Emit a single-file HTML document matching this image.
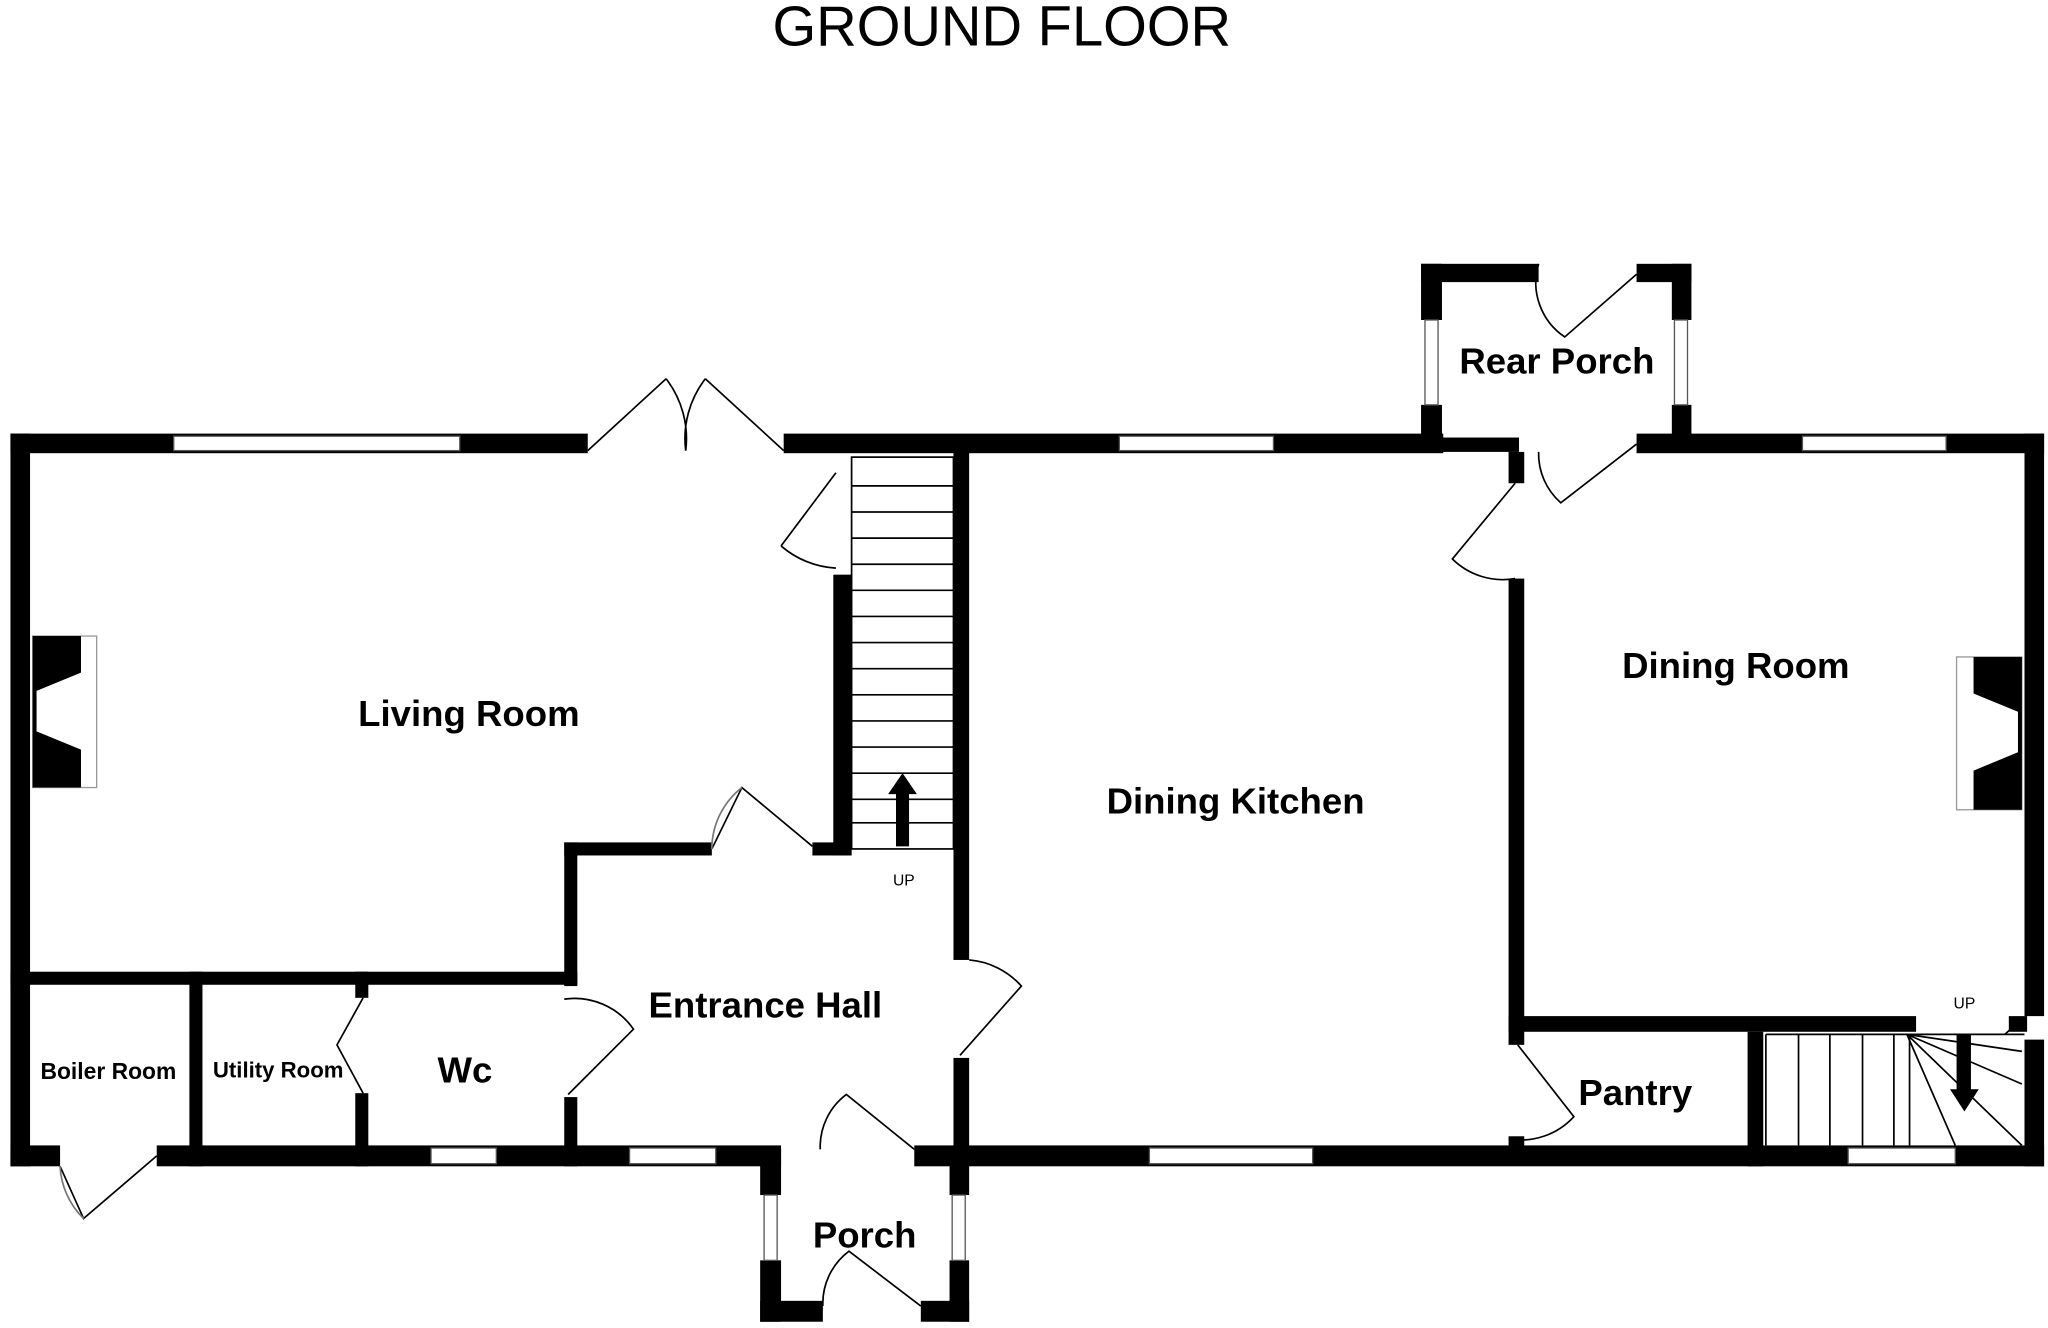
<!DOCTYPE html>
<html><head><meta charset="utf-8"><style>
html,body{margin:0;padding:0;background:#fff;width:2048px;height:1328px;overflow:hidden}
svg{display:block}
text{font-family:"Liberation Sans",sans-serif}
</style></head><body>
<svg width="2048" height="1328" viewBox="0 0 1568 1016.8" preserveAspectRatio="none" xmlns="http://www.w3.org/2000/svg">
<rect width="1568" height="1017" fill="#fff"/>
<text x="767" y="35" font-size="43" text-anchor="middle" fill="#000">GROUND FLOOR</text>
<g fill="#000">
<rect x="8" y="332" width="442" height="15"/>
<rect x="600" y="332" width="505" height="15"/>
<rect x="1088" y="335" width="75" height="11"/>
<rect x="1253" y="332" width="312" height="15"/>
<rect x="8" y="332" width="15" height="561"/>
<rect x="1550" y="332" width="15" height="446"/>
<rect x="1550" y="796" width="15" height="97"/>
<rect x="8" y="877" width="38" height="16"/>
<rect x="120" y="877" width="478" height="16"/>
<rect x="700" y="877" width="865" height="16"/>
<rect x="638" y="440" width="14" height="215"/>
<rect x="730" y="346" width="12" height="389"/>
<rect x="730" y="810" width="12" height="83"/>
<rect x="8" y="744" width="434" height="10"/>
<rect x="432" y="645" width="10" height="110"/>
<rect x="432" y="840" width="10" height="53"/>
<rect x="432" y="645" width="113" height="10"/>
<rect x="622" y="645" width="30" height="10"/>
<rect x="145" y="744" width="10" height="149"/>
<rect x="272" y="744" width="10" height="20"/>
<rect x="272" y="837" width="10" height="56"/>
<rect x="1155" y="346" width="12" height="24"/>
<rect x="1155" y="443" width="12" height="357"/>
<rect x="1155" y="778" width="312" height="12"/>
<rect x="1338" y="790" width="12" height="103"/>
<rect x="1155" y="870" width="12" height="10"/>
<rect x="1538" y="778" width="14" height="12"/>
<rect x="1088" y="202" width="90" height="14"/>
<rect x="1253" y="202" width="42" height="14"/>
<rect x="1088" y="202" width="16" height="43"/>
<rect x="1088" y="310" width="16" height="36"/>
<rect x="1280" y="202" width="15" height="43"/>
<rect x="1280" y="310" width="15" height="36"/>
<rect x="582" y="880" width="16" height="35"/>
<rect x="582" y="965" width="16" height="47"/>
<rect x="727" y="880" width="15" height="35"/>
<rect x="727" y="965" width="15" height="47"/>
<rect x="582" y="996" width="48" height="16"/>
<rect x="705" y="996" width="37" height="16"/>
</g>
<g fill="#fff" stroke="#999" stroke-width="1">
<rect x="25" y="487" width="49" height="116"/>
<rect x="1498" y="503" width="50" height="117"/>
</g>
<g fill="#000">
<path d="M25 487H62V515L28 529V560L62 574V603H25Z"/>
<path d="M1548 503H1511V531L1545 545V576L1511 590V620H1548Z"/>
</g>
<g fill="#fff" stroke="#555" stroke-width="1">
<rect x="133" y="334" width="219" height="11"/>
<rect x="857" y="334" width="118" height="11"/>
<rect x="1380" y="334" width="110" height="11"/>
<rect x="330" y="879" width="50" height="12"/>
<rect x="482" y="879" width="66" height="12"/>
<rect x="880" y="879" width="125" height="12"/>
<rect x="1415" y="879" width="82" height="12"/>
<rect x="1091" y="245" width="10" height="65"/>
<rect x="1282" y="245" width="10" height="65"/>
<rect x="585" y="915" width="10" height="50"/>
<rect x="729" y="915" width="10" height="50"/>
</g>
<g fill="none" stroke="#000" stroke-width="1.3">
<rect x="652" y="350" width="78" height="300"/>
<path d="M652 372H730M652 392H730M652 412H730M652 432H730M652 452H730M652 472H730M652 492H730M652 512H730M652 532H730M652 552H730M652 572H730M652 592H730M652 612H730M652 630H730"/>
<path d="M1352 792V877M1377 792V877M1401 792V877M1426 792V877M1450 792V877M1462 792V877M1352 792H1550"/>
<path d="M1460 792L1497 877M1460 792L1548 877M1460 792L1548 830M1460 792L1548 805"/>
<path d="M450 345L510 290 M510 290A75 75 0 0 1 525 345 M600 345L540 290 M540 290A75 75 0 0 0 525 345"/>
<path d="M640 362L598 418 M598 418A70 70 0 0 0 640 435"/>
<path d="M545 650L568 603L622 648"/>
<path d="M568 603A60 60 0 0 0 545 650" stroke="#777"/>
<path d="M742 735A60 60 0 0 1 782 755L735 808"/>
<path d="M432 765A55 55 0 0 1 485 788L435 838"/>
<path d="M278 764L258 800L278 837"/>
<path d="M46 893L64 933L120 885"/>
<path d="M64 933A60 60 0 0 1 46 893" stroke="#777"/>
<path d="M628 880A50 50 0 0 1 648 838L700 880"/>
<path d="M630 1000A50 50 0 0 1 650 958L705 1000"/>
<path d="M1178 202A50 50 0 0 0 1198 258L1253 210"/>
<path d="M1178 346A50 50 0 0 0 1195 385L1253 340"/>
<path d="M1160 370L1112 428A55 55 0 0 0 1160 443"/>
<path d="M1162 800L1205 855A55 55 0 0 1 1155 872"/>
<path d="M1535 792L1548 780"/>
</g>
<g fill="#000">
<path d="M686 648V608H680L691 592L702 608H696V648Z"/>
<path d="M1498 792V834H1493L1504 851L1515 834H1509V792Z"/>
</g>
<g font-weight="bold" fill="#000" text-anchor="middle">
<text x="359" y="556" font-size="28">Living Room</text>
<text x="946" y="623" font-size="28">Dining Kitchen</text>
<text x="1329" y="519" font-size="28">Dining Room</text>
<text x="1192" y="286" font-size="28">Rear Porch</text>
<text x="586" y="779" font-size="28">Entrance Hall</text>
<text x="356" y="829" font-size="28">Wc</text>
<text x="1252" y="846" font-size="28">Pantry</text>
<text x="662" y="955" font-size="28">Porch</text>
<text x="83" y="826" font-size="17.5">Boiler Room</text>
<text x="213" y="825" font-size="17">Utility Room</text>
</g>
<text x="692" y="678" font-size="12" text-anchor="middle">UP</text>
<text x="1504" y="772" font-size="12" text-anchor="middle">UP</text>
</svg>
</body></html>
